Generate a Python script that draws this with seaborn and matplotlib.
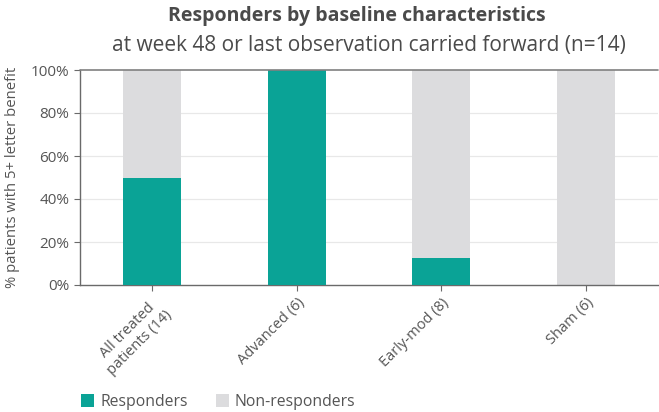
import matplotlib
matplotlib.use("Agg")
import matplotlib.pyplot as plt
import seaborn as sns
import pandas as pd
from matplotlib.patches import Patch
from matplotlib.ticker import FuncFormatter

categories = ["All treated\npatients (14)", "Advanced (6)", "Early-mod (8)", "Sham (6)"]
responders = [50, 100, 12.5, 0]
non_responders = [50, 0, 87.5, 100]
yticks = [0, 20, 40, 60, 80, 100]

TEAL = "#0aa396"
GRAY = "#dcdcde"
TXT = "#555555"

sns.set_theme(style="white")
plt.rcParams["font.family"] = ["Open Sans", "DejaVu Sans"]

df = pd.DataFrame({
    "category": categories,
    "responders": responders,
    "total": [r + n for r, n in zip(responders, non_responders)],
})

fig = plt.figure(figsize=(6.59, 4.12), dpi=100)
ax = fig.add_axes([80 / 659, 1 - 285 / 412, 578 / 659, 215 / 412])

sns.barplot(data=df, x="category", y="total", color=GRAY, width=0.4,
            saturation=1, ax=ax, zorder=2, linewidth=0, edgecolor="none")
sns.barplot(data=df, x="category", y="responders", color=TEAL, width=0.4,
            saturation=1, ax=ax, zorder=3, linewidth=0, edgecolor="none")

ax.set_ylim(0, 100)
ax.set_xlim(-0.5, 3.5)
ax.set_yticks(yticks)
ax.yaxis.set_major_formatter(FuncFormatter(lambda v, p: f"{int(v)}%"))
for y in yticks[1:-1]:
    ax.axhline(y, color="#e8e8e8", lw=0.9, zorder=1)
ax.axhline(100, color="#808080", lw=1.2, zorder=4, clip_on=False)

for s in ["top", "right"]:
    ax.spines[s].set_visible(False)
for s in ["left", "bottom"]:
    ax.spines[s].set_color("#6a6a6a")
    ax.spines[s].set_linewidth(1.0)

ax.tick_params(axis="both", which="major", length=4, width=0.8, color="#6a6a6a",
               labelsize=11, labelcolor=TXT, bottom=True, left=True)
ax.tick_params(axis="x", labelsize=10.5)
ax.set_xlabel("")
ax.set_ylabel("% patients with 5+ letter benefit", fontsize=10.7, color=TXT, labelpad=8)
plt.setp(ax.get_xticklabels(), rotation=45, ha="right", rotation_mode="anchor",
         multialignment="center")

fig.text(0.542, 1 - 16 / 412, "Responders by baseline characteristics",
         ha="center", va="center", fontsize=14, fontweight="bold", color="#4a4a4a")
fig.text(0.56, 1 - 46 / 412, "at week 48 or last observation carried forward (n=14)",
         ha="center", va="center", fontsize=15, color="#4a4a4a")

handles = [Patch(facecolor=TEAL, edgecolor="none", label="Responders"),
           Patch(facecolor=GRAY, edgecolor="none", label="Non-responders")]
fig.legend(handles=handles, loc="center left", bbox_to_anchor=(67 / 659, 1 - 402 / 412),
           ncol=2, frameon=False, fontsize=11.3, handlelength=0.83, handleheight=0.83,
           handletextpad=0.38, columnspacing=1.8, labelcolor=TXT)

fig.savefig("out.png", dpi=100)
